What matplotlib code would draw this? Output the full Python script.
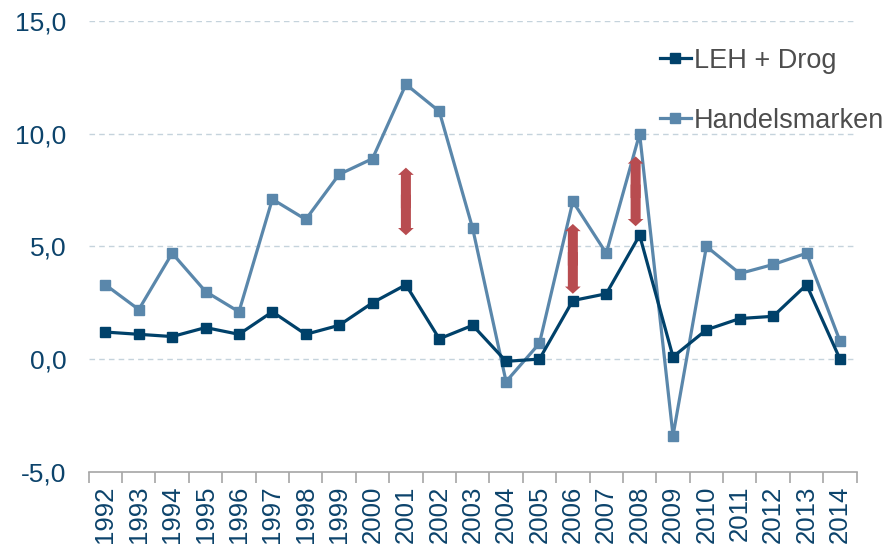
import matplotlib
matplotlib.use("Agg")
import matplotlib.pyplot as plt
from matplotlib.patches import FancyArrow
import numpy as np

years = [str(y) for y in range(1992, 2015)]
leh_drog = [1.2, 1.1, 1.0, 1.4, 1.1, 2.1, 1.1, 1.5, 2.5, 3.3, 0.9, 1.5, -0.1,
            0.0, 2.6, 2.9, 5.5, 0.1, 1.3, 1.8, 1.9, 3.3, 0.0]
handelsmarken = [3.3, 2.2, 4.7, 3.0, 2.1, 7.1, 6.2, 8.2, 8.9, 12.2, 11.0, 5.8,
                 -1.0, 0.7, 7.0, 4.7, 10.0, -3.4, 5.0, 3.8, 4.2, 4.7, 0.8]
y_ticks = [-5, 0, 5, 10, 15]
y_ticklabels = ["-5,0", "0,0", "5,0", "10,0", "15,0"]
arrow_years = ["2001", "2006", "2008"]
arrow_top = [8.5, 6.0, 9.0]
arrow_bottom = [5.5, 2.9, 5.9]
arrow_offset = [0.0, 0.0, -0.12]

plt.rcParams['font.family'] = ['Liberation Sans', 'DejaVu Sans']

dark = "#00416A"
light = "#5A87AB"
red = "#B84C50"
tickcol = "#0C436B"

fig = plt.figure(figsize=(8.87, 5.5), dpi=100)
ax = fig.add_axes([0.1, 0.1424, 0.8658, 0.8189])

x = np.arange(len(years))
ax.plot(x, leh_drog, color=dark, lw=2.3, marker='s', markersize=7.5,
        label="LEH + Drog", zorder=4)
ax.plot(x, handelsmarken, color=light, lw=2.3, marker='s', markersize=7.5,
        label="Handelsmarken", zorder=3)

for yr, top, bot, off in zip(arrow_years, arrow_top, arrow_bottom, arrow_offset):
    xi = years.index(yr) + off
    mid = (top + bot) / 2
    for end, sgn in ((top, -1), (bot, 1)):
        start = mid + sgn * 0.3
        ax.add_patch(FancyArrow(xi, start, 0, end - start, width=0.3,
                                head_width=0.47, head_length=0.32,
                                length_includes_head=True, color=red,
                                lw=0, zorder=5))

ax.set_xlim(-0.5, len(years) - 0.5)
ax.set_ylim(-5, 15)
ax.set_yticks(y_ticks)
ax.set_yticklabels(y_ticklabels)
ax.set_xticks(x)
ax.set_xticklabels(years, rotation=90)
ax.set_xticks(np.arange(-0.5, len(years), 1.0), minor=True)
ax.tick_params(axis='x', which='major', length=0, pad=10, labelsize=18.5,
               labelcolor=tickcol)
ax.tick_params(axis='x', which='minor', length=8, width=1.2, color="#A6A6A6",
               direction='out')
ax.tick_params(axis='y', length=0, pad=16, labelsize=19, labelcolor=tickcol)

for s in ['left', 'right', 'top']:
    ax.spines[s].set_visible(False)
ax.spines['bottom'].set_color("#A6A6A6")
ax.spines['bottom'].set_linewidth(1.2)

for yv in [0, 5, 10, 15]:
    ax.axhline(yv, color="#C5D3DC", lw=1.0, ls=(0, (4, 3)), zorder=1)

leg = ax.legend(loc='upper left', bbox_to_anchor=(0.7295, 0.965), frameon=False,
                fontsize=19.5, handlelength=1.15, handletextpad=0.1,
                labelspacing=1.25, borderaxespad=0)
for t in leg.get_texts():
    t.set_color("#4D4D4D")

fig.savefig("out.png", dpi=100)
